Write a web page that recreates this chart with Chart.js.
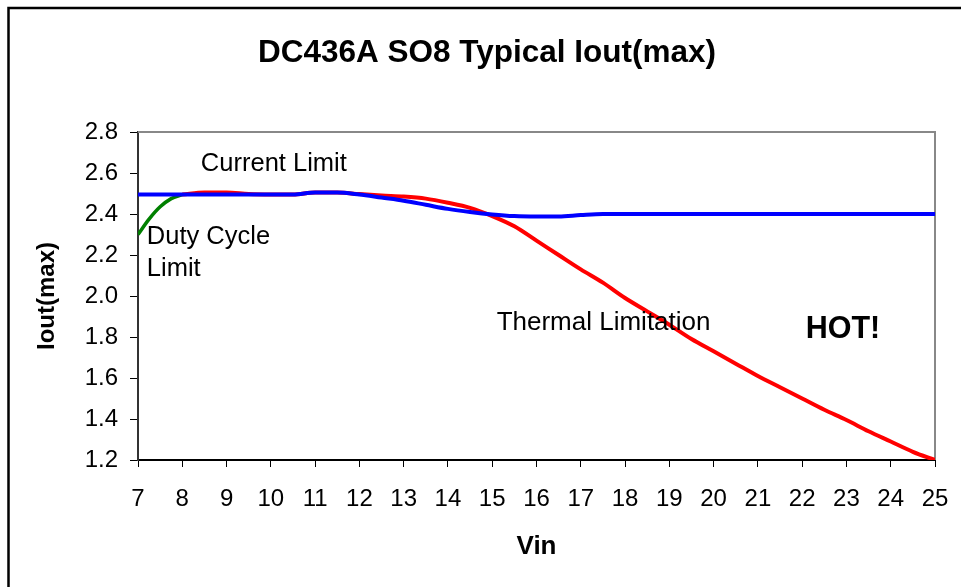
<!DOCTYPE html>
<html>
<head>
<meta charset="utf-8">
<script src="https://cdn.jsdelivr.net/npm/chart.js@4.4.1/dist/chart.umd.min.js"></script>
<style>
  html, body { margin: 0; padding: 0; background: #fff; }
  #wrap { width: 961px; height: 587px; }
</style>
</head>
<body>
<div id="wrap"><canvas id="chart" width="961" height="587"></canvas></div>
<script>
// Vin values for each curve
const vinDuty = [7, 7.25, 7.5, 7.75, 8];
const vinCurrent = [7, 7.5, 8, 8.5, 9, 9.5, 10, 10.5, 11, 11.5, 12, 12.5, 13, 13.5, 14, 14.5, 15, 15.5,
  16, 16.5, 17, 17.5, 18, 18.5, 19, 19.5, 20, 20.5, 21, 21.5, 22, 22.5, 23, 23.5, 24, 24.5, 25];
const vinThermal = [8, 8.5, 9, 9.5, 10, 10.5, 11, 11.5, 12, 12.5, 13, 13.5, 14, 14.5, 15, 15.5,
  16, 16.5, 17, 17.5, 18, 18.5, 19, 19.5, 20, 20.5, 21, 21.5, 22, 22.5, 23, 23.5, 24, 24.5, 25];

// Iout(max) readings
const dutyLimit = [2.30, 2.375, 2.435, 2.475, 2.495];
const currentLimit = [2.495, 2.495, 2.495, 2.495, 2.495, 2.495, 2.495, 2.495, 2.505, 2.505, 2.495, 2.48,
  2.465, 2.445, 2.425, 2.41, 2.398, 2.39, 2.388, 2.388, 2.395, 2.40, 2.40, 2.40, 2.40, 2.40, 2.40,
  2.40, 2.40, 2.40, 2.40, 2.40, 2.40, 2.40, 2.40, 2.40, 2.40];
const thermalLimit = [2.495, 2.505, 2.505, 2.497, 2.495, 2.495, 2.505, 2.505, 2.497, 2.49, 2.485, 2.475,
  2.455, 2.43, 2.39, 2.34, 2.27, 2.20, 2.13, 2.065, 1.99, 1.925, 1.86, 1.79, 1.73, 1.67, 1.61,
  1.555, 1.50, 1.445, 1.395, 1.34, 1.29, 1.24, 1.20];

const FONT = 'Liberation Sans, Arial, sans-serif';
const TITLE = 'DC436A SO8 Typical Iout(max)';

const toPoints = (xs, ys) => xs.map((x, i) => ({ x: x, y: ys[i] }));

// text notes placed in data units
const notes = [
  { text: 'Current Limit', x: 8.42, y: 2.644, bold: false, size: 25.5 },
  { text: 'Duty Cycle', x: 7.2, y: 2.289, bold: false, size: 25.5 },
  { text: 'Limit', x: 7.2, y: 2.134, bold: false, size: 25.5 },
  { text: 'Thermal Limitation', x: 15.1, y: 1.871, bold: false, size: 26 },
  { text: 'HOT!', x: 22.08, y: 1.837, bold: true, size: 30.5 }
];

const framePlugin = {
  id: 'frame',
  beforeDraw(chart) {
    const ctx = chart.ctx;
    ctx.save();
    ctx.fillStyle = '#fff';
    ctx.fillRect(0, 0, chart.width, chart.height);
    ctx.strokeStyle = '#000';
    ctx.lineWidth = 2.5;
    ctx.beginPath();
    ctx.moveTo(8.5, chart.height);
    ctx.lineTo(8.5, 8);
    ctx.lineTo(chart.width, 8);
    ctx.stroke();
    // chart title, centred on the whole picture
    ctx.fillStyle = '#000';
    ctx.font = 'bold 31.5px ' + FONT;
    ctx.textAlign = 'center';
    ctx.textBaseline = 'middle';
    ctx.fillText(TITLE, 487, 53);
    ctx.restore();
  },
  beforeDatasetsDraw(chart) {
    const { ctx, chartArea: a } = chart;
    ctx.save();
    ctx.strokeStyle = '#888';
    ctx.lineWidth = 2;
    ctx.beginPath();
    ctx.moveTo(a.left, a.top);
    ctx.lineTo(a.right, a.top);
    ctx.lineTo(a.right, a.bottom);
    ctx.stroke();
    ctx.restore();
  },
  afterDraw(chart) {
    const { ctx, scales: { x, y } } = chart;
    ctx.save();
    ctx.fillStyle = '#000';
    ctx.textBaseline = 'middle';
    ctx.textAlign = 'left';
    notes.forEach(n => {
      ctx.font = (n.bold ? 'bold ' : '') + n.size + 'px ' + FONT;
      ctx.fillText(n.text, x.getPixelForValue(n.x), y.getPixelForValue(n.y));
    });
    ctx.restore();
  }
};

new Chart(document.getElementById('chart'), {
  type: 'line',
  data: {
    datasets: [
      {
        label: 'Current Limit',
        data: toPoints(vinCurrent, currentLimit),
        borderColor: '#0000ff',
        borderWidth: 4,
        pointRadius: 0,
        cubicInterpolationMode: 'monotone'
      },
      {
        label: 'Thermal Limitation',
        data: toPoints(vinThermal, thermalLimit),
        borderColor: '#ff0000',
        borderWidth: 4,
        pointRadius: 0,
        cubicInterpolationMode: 'monotone'
      },
      {
        label: 'Duty Cycle Limit',
        data: toPoints(vinDuty, dutyLimit),
        borderColor: '#008000',
        borderWidth: 3.5,
        pointRadius: 0,
        tension: 0.3
      }
    ]
  },
  options: {
    responsive: false,
    animation: false,
    layout: { padding: { left: 20, right: 26, top: 132, bottom: 0 } },
    plugins: {
      legend: { display: false },
      tooltip: { enabled: false },
      title: { display: false }
    },
    scales: {
      x: {
        type: 'linear',
        min: 7,
        max: 25,
        afterFit: s => { s.height = 127; s.paddingLeft = 0; s.paddingRight = 0; },
        ticks: { stepSize: 1, color: '#000', padding: 18, maxRotation: 0, font: { family: FONT, size: 24 } },
        grid: { drawOnChartArea: false, drawTicks: true, tickLength: 7, color: '#000' },
        border: { color: '#000', width: 2 },
        title: {
          display: true,
          text: 'Vin',
          color: '#000',
          font: { family: FONT, size: 26, weight: 'bold' },
          padding: { top: 0, bottom: 25 }
        }
      },
      y: {
        min: 1.2,
        max: 2.8,
        afterFit: s => { s.width = 118; s.paddingTop = 0; s.paddingBottom = 0; },
        ticks: {
          stepSize: 0.2,
          color: '#000',
          padding: 12,
          font: { family: FONT, size: 24 },
          callback: v => v.toFixed(1)
        },
        grid: { drawOnChartArea: false, drawTicks: true, tickLength: 8, color: '#000' },
        border: { color: '#333', width: 2 },
        title: {
          display: true,
          text: 'Iout(max)',
          color: '#000',
          font: { family: FONT, size: 24, weight: 'bold' },
          padding: { top: 13, bottom: 0 }
        }
      }
    }
  },
  plugins: [framePlugin]
});
</script>
</body>
</html>
